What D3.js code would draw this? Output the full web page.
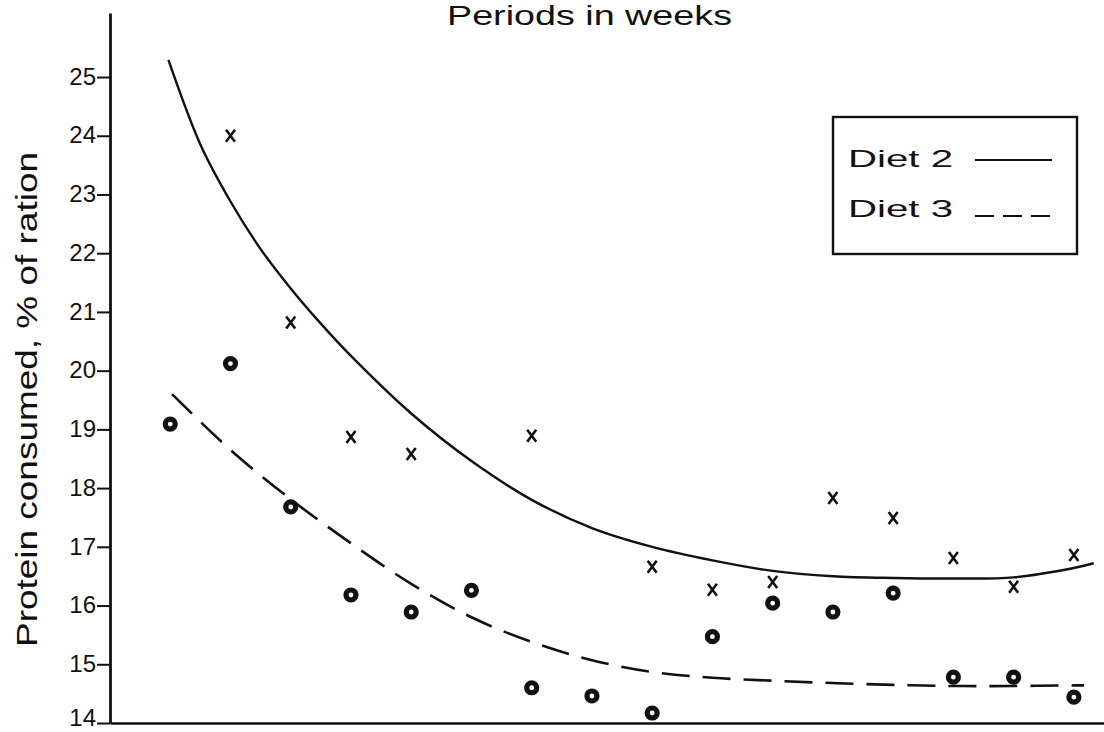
<!DOCTYPE html>
<html>
<head>
<meta charset="utf-8">
<script src="https://cdn.jsdelivr.net/npm/d3@7"></script>
<style>
  html, body { margin: 0; padding: 0; background: #fff; }
  svg { display: block; }
  text { font-family: "Liberation Sans", Arial, sans-serif; fill: #111; }
</style>
</head>
<body>
<svg id="chart" width="1104" height="732"></svg>
<script>
// ---- Data ----
const periods = [1, 2, 3, 4, 5, 6, 7, 8, 9, 10, 11, 12, 13, 14, 15, 16];
const diet2Values = [null, 24.0, 20.82, 18.87, 18.58, null, 18.89, null, 16.66, 16.27, 16.4, 17.83, 17.49, 16.81, 16.32, 16.86];
const diet3Values = [19.09, 20.12, 17.68, 16.18, 15.89, 16.26, 14.6, 14.46, 14.17, 15.47, 16.04, 15.89, 16.21, 14.78, 14.78, 14.44];

const fit2Periods = [0.97, 1.5, 2, 2.5, 3, 3.5, 4, 5, 6, 7, 8, 9, 10, 11, 12, 13, 14, 15, 16, 16.33];
const fit2Values  = [25.29, 23.85, 22.88, 22.07, 21.4, 20.8, 20.25, 19.27, 18.46, 17.8, 17.32, 17.0, 16.77, 16.59, 16.5, 16.47, 16.46, 16.48, 16.64, 16.72];

const fit3Periods = [1.03, 2, 3, 4, 5, 6, 7, 8, 9, 10, 11, 12, 13, 14, 15, 16, 16.17];
const fit3Values  = [19.6, 18.65, 17.81, 17.06, 16.37, 15.8, 15.38, 15.07, 14.87, 14.77, 14.72, 14.68, 14.65, 14.63, 14.63, 14.64, 14.64];

const yTicks = [14, 15, 16, 17, 18, 19, 20, 21, 22, 23, 24, 25];
const legendLabels = ["Diet 2", "Diet 3"];
const titleText = "Periods in weeks";
const yLabelText = "Protein consumed, % of ration";

// ---- Layout ----
const svg = d3.select("#chart");
const x = d3.scaleLinear().domain([0, 16.5]).range([110, 1104]);
const y = d3.scaleLinear().domain([14, 26.09]).range([723, 13]);

// Y axis
const yAxis = d3.axisLeft(y).tickValues(yTicks).tickSize(13).tickSizeOuter(0).tickPadding(1);
const yg = svg.append("g").attr("transform", `translate(${x(0)},0)`).call(yAxis);
yg.select(".domain").attr("stroke", "#111").attr("stroke-width", 2.8);
yg.selectAll(".tick line").attr("stroke", "#111").attr("stroke-width", 2);
yg.selectAll(".tick text")
  .style("font-family", "'Liberation Sans', Arial, sans-serif")
  .style("font-size", "24px")
  .attr("dy", d => d === 14 ? "0.12em" : "0.3em")
  .attr("fill", "#111");

// X axis (baseline, no ticks)
const xAxis = d3.axisBottom(x).tickValues([]).tickSizeOuter(0);
const xg = svg.append("g").attr("transform", `translate(0,${y(14)})`).call(xAxis);
xg.select(".domain").attr("stroke", "#111").attr("stroke-width", 2.6);

// Title
svg.append("text")
  .attr("x", 447).attr("y", 25)
  .attr("textLength", 285).attr("lengthAdjust", "spacingAndGlyphs")
  .style("font-size", "27px")
  .text(titleText);

// Y label
svg.append("text")
  .attr("transform", "translate(37,647) rotate(-90)")
  .attr("x", 0).attr("y", 0)
  .attr("textLength", 495).attr("lengthAdjust", "spacingAndGlyphs")
  .style("font-size", "30px")
  .attr("fill", "#333")
  .text(yLabelText);

// Fitted curves
const line = d3.line().x(d => x(d[0])).y(d => y(d[1])).curve(d3.curveCatmullRom.alpha(0.5));
svg.append("path")
  .datum(fit2Periods.map((p, i) => [p, fit2Values[i]]))
  .attr("d", line).attr("fill", "none")
  .attr("stroke", "#111").attr("stroke-width", 2.4);
svg.append("path")
  .datum(fit3Periods.map((p, i) => [p, fit3Values[i]]))
  .attr("d", line).attr("fill", "none")
  .attr("stroke", "#111").attr("stroke-width", 2.6)
  .attr("stroke-dasharray", "28,13");

// Diet 2 markers (x)
const d2 = periods.map((p, i) => [p, diet2Values[i]]).filter(d => d[1] !== null);
svg.append("g").selectAll("path").data(d2).join("path")
  .attr("transform", d => `translate(${x(d[0])},${y(d[1])})`)
  .attr("d", "M-4.5,-6L4.5,6M4.5,-6L-4.5,6")
  .attr("stroke", "#111").attr("stroke-width", 2.6).attr("fill", "none");

// Diet 3 markers (circled dots)
const d3v = periods.map((p, i) => [p, diet3Values[i]]);
svg.append("g").selectAll("circle").data(d3v).join("circle")
  .attr("cx", d => x(d[0])).attr("cy", d => y(d[1]))
  .attr("r", 5).attr("fill", "#fff")
  .attr("stroke", "#111").attr("stroke-width", 5.2);

// Legend
const lg = svg.append("g");
lg.append("rect").attr("x", 833).attr("y", 117).attr("width", 244).attr("height", 137)
  .attr("fill", "#fff").attr("stroke", "#111").attr("stroke-width", 2.4);
lg.append("text").attr("x", 848).attr("y", 167)
  .attr("textLength", 105).attr("lengthAdjust", "spacingAndGlyphs")
  .style("font-size", "24px").text(legendLabels[0]);
lg.append("text").attr("x", 848).attr("y", 217)
  .attr("textLength", 105).attr("lengthAdjust", "spacingAndGlyphs")
  .style("font-size", "24px").text(legendLabels[1]);
lg.append("line").attr("x1", 975).attr("x2", 1052).attr("y1", 160).attr("y2", 160)
  .attr("stroke", "#111").attr("stroke-width", 2.2);
lg.append("line").attr("x1", 975).attr("x2", 1052).attr("y1", 216).attr("y2", 216)
  .attr("stroke", "#111").attr("stroke-width", 2.2).attr("stroke-dasharray", "19,9");
</script>
</body>
</html>
